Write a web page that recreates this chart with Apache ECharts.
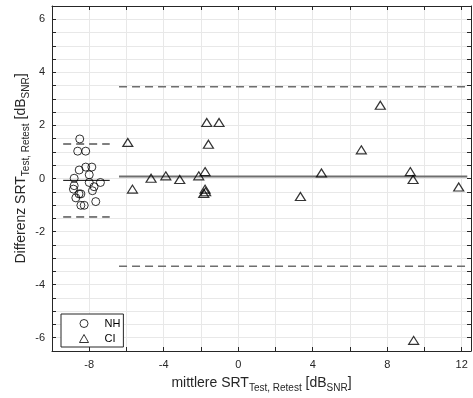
<!DOCTYPE html>
<html>
<head>
<meta charset="utf-8">
<script src="https://cdn.jsdelivr.net/npm/echarts@6/dist/echarts.min.js"></script>
<style>
html,body{margin:0;padding:0;background:#fff;}
#chart{width:473px;height:398px;}
</style>
</head>
<body>
<div id="chart"></div>
<script>
// NH group (circles)
const nhX = [-8.51,-8.62,-8.19,-8.54,-8.19,-7.86,-8.00,-8.81,-8.00,-7.40,-8.81,-7.74,-8.85,-7.83,-8.45,-8.55,-8.72,-7.65,-8.45,-8.27];
const nhY = [1.49,1.03,1.03,0.32,0.43,0.43,0.14,0.01,-0.15,-0.15,-0.27,-0.31,-0.40,-0.46,-0.58,-0.58,-0.73,-0.87,-1.01,-1.01];
// CI group (triangles)
const ciX = [-5.93,-5.68,-4.68,-3.89,-3.14,-2.12,-1.78,-1.69,-1.03,-1.60,-1.78,-1.85,-1.75,7.63,6.61,4.47,3.34,9.24,9.39,11.84,9.42];
const ciY = [1.36,-0.40,0.01,0.10,-0.04,0.10,0.26,2.11,2.11,1.29,-0.40,-0.56,-0.50,2.76,1.08,0.21,-0.68,0.26,-0.04,-0.32,-6.10];
// Bland-Altman lines: [mean, upper limit, lower limit]
const nhLineX = [-9.4, -6.9];
const nhLines = [-0.07, 1.30, -1.45];
const ciLineX = [-6.4, 12.3];
const ciLines = [0.08, 3.46, -3.31];
// axis ranges / ticks
const xRange = [-10, 12.5];
const yRange = [-6.5, 6.5];
const xTickStep = 2, xLabelStep = 4;
const yTickStep = 0.5, yLabelStep = 2;

const FONT = '"Liberation Sans", Arial, Helvetica, sans-serif';
const AX = '#262626';
const GRID = '#e8e8e8';

function zip(a, b) { return a.map((v, i) => [v, b[i]]); }
function hline(xs, y) { return [[xs[0], y], [xs[1], y]]; }

const chart = echarts.init(document.getElementById('chart'), null, {renderer: 'canvas'});

const nameRich = {
  m: {fontSize: 14, fontFamily: FONT, color: AX},
  s: {fontSize: 10, fontFamily: FONT, color: AX, padding: [10, 0, 0, 0]}
};

const xBase = {
  type: 'value', min: xRange[0], max: xRange[1], interval: xTickStep,
  axisLine: {show: true, onZero: false, lineStyle: {color: AX, width: 1}},
  axisTick: {show: true, inside: true, length: 4, lineStyle: {color: AX}},
};
const yBase = {
  type: 'value', min: yRange[0], max: yRange[1], interval: yTickStep,
  axisLine: {show: true, onZero: false, lineStyle: {color: AX, width: 1}},
  axisTick: {show: true, inside: true, length: 4, lineStyle: {color: AX}},
};

const lineSeries = (data, color, width, dashed, z) => ({
  type: 'line', data: data, symbol: 'none', silent: true, z: z,
  lineStyle: {color: color, width: width, type: dashed ? [8, 5] : 'solid'},
  animation: false
});

chart.setOption({
  animation: false,
  backgroundColor: '#fff',
  textStyle: {fontFamily: FONT},
  grid: {left: 52, top: 6, width: 419, height: 349.5, containLabel: false},
  xAxis: [
    Object.assign({}, xBase, {
      position: 'bottom',
      axisLabel: {
        formatter: v => (Math.abs(v % xLabelStep) < 1e-9 ? String(v) : ''),
        showMinLabel: false, showMaxLabel: false,
        color: AX, fontSize: 11, fontFamily: FONT, margin: 8
      },
      splitLine: {show: true, lineStyle: {color: GRID, width: 1}},
      name: '{m|mittlere SRT}{s|Test, Retest}{m| [dB}{s|SNR}{m|]}',
      nameLocation: 'middle', nameGap: 22, nameMoveOverlap: false,
      nameTextStyle: {rich: nameRich}
    }),
    Object.assign({}, xBase, {
      position: 'top',
      axisLabel: {show: false},
      splitLine: {show: false}
    })
  ],
  yAxis: [
    Object.assign({}, yBase, {
      position: 'left',
      axisLabel: {
        formatter: v => (Math.abs(v % yLabelStep) < 1e-9 ? String(v) : ''),
        showMinLabel: false, showMaxLabel: false,
        color: AX, fontSize: 11, fontFamily: FONT, margin: 7
      },
      splitLine: {show: true, lineStyle: {color: GRID, width: 1}},
      name: '{m|Differenz SRT}{s|Test, Retest}{m| [dB}{s|SNR}{m|]}',
      nameLocation: 'middle', nameGap: 21, nameMoveOverlap: false,
      nameTextStyle: {rich: nameRich, padding: [0, 0, 0, 20]}
    }),
    Object.assign({}, yBase, {
      position: 'right',
      axisLabel: {show: false},
      splitLine: {show: false}
    })
  ],
  legend: {
    orient: 'vertical', left: 61, top: 314,
    data: ['NH', 'CI'],
    backgroundColor: '#fff', borderColor: AX, borderWidth: 1, borderRadius: 0,
    padding: [4, 3, 3, 18], itemWidth: 9, itemHeight: 8, itemGap: 4,
    itemStyle: {borderWidth: 1},
    textStyle: {fontSize: 11, color: '#000', fontFamily: FONT, padding: [0, 0, 0, 11]}
  },
  series: [
    lineSeries(hline(nhLineX, nhLines[0]), '#000', 1, false, 2),
    lineSeries(hline(nhLineX, nhLines[1]), '#000', 1, true, 2),
    lineSeries(hline(nhLineX, nhLines[2]), '#000', 1, true, 2),
    lineSeries(hline(ciLineX, ciLines[0]), '#6e6e6e', 2, false, 2),
    lineSeries(hline(ciLineX, ciLines[1]), '#6e6e6e', 1.5, true, 2),
    lineSeries(hline(ciLineX, ciLines[2]), '#6e6e6e', 1.5, true, 2),
    {
      name: 'NH', type: 'scatter', data: zip(nhX, nhY), symbol: 'circle', symbolSize: 8, z: 3,
      itemStyle: {color: 'rgba(255,255,255,0)', borderColor: '#000', borderWidth: 1}
    },
    {
      name: 'CI', type: 'scatter', data: zip(ciX, ciY), symbol: 'triangle', symbolSize: [10, 8], z: 3,
      itemStyle: {color: 'rgba(255,255,255,0)', borderColor: '#000', borderWidth: 1.2}
    }
  ]
});
</script>
</body>
</html>
